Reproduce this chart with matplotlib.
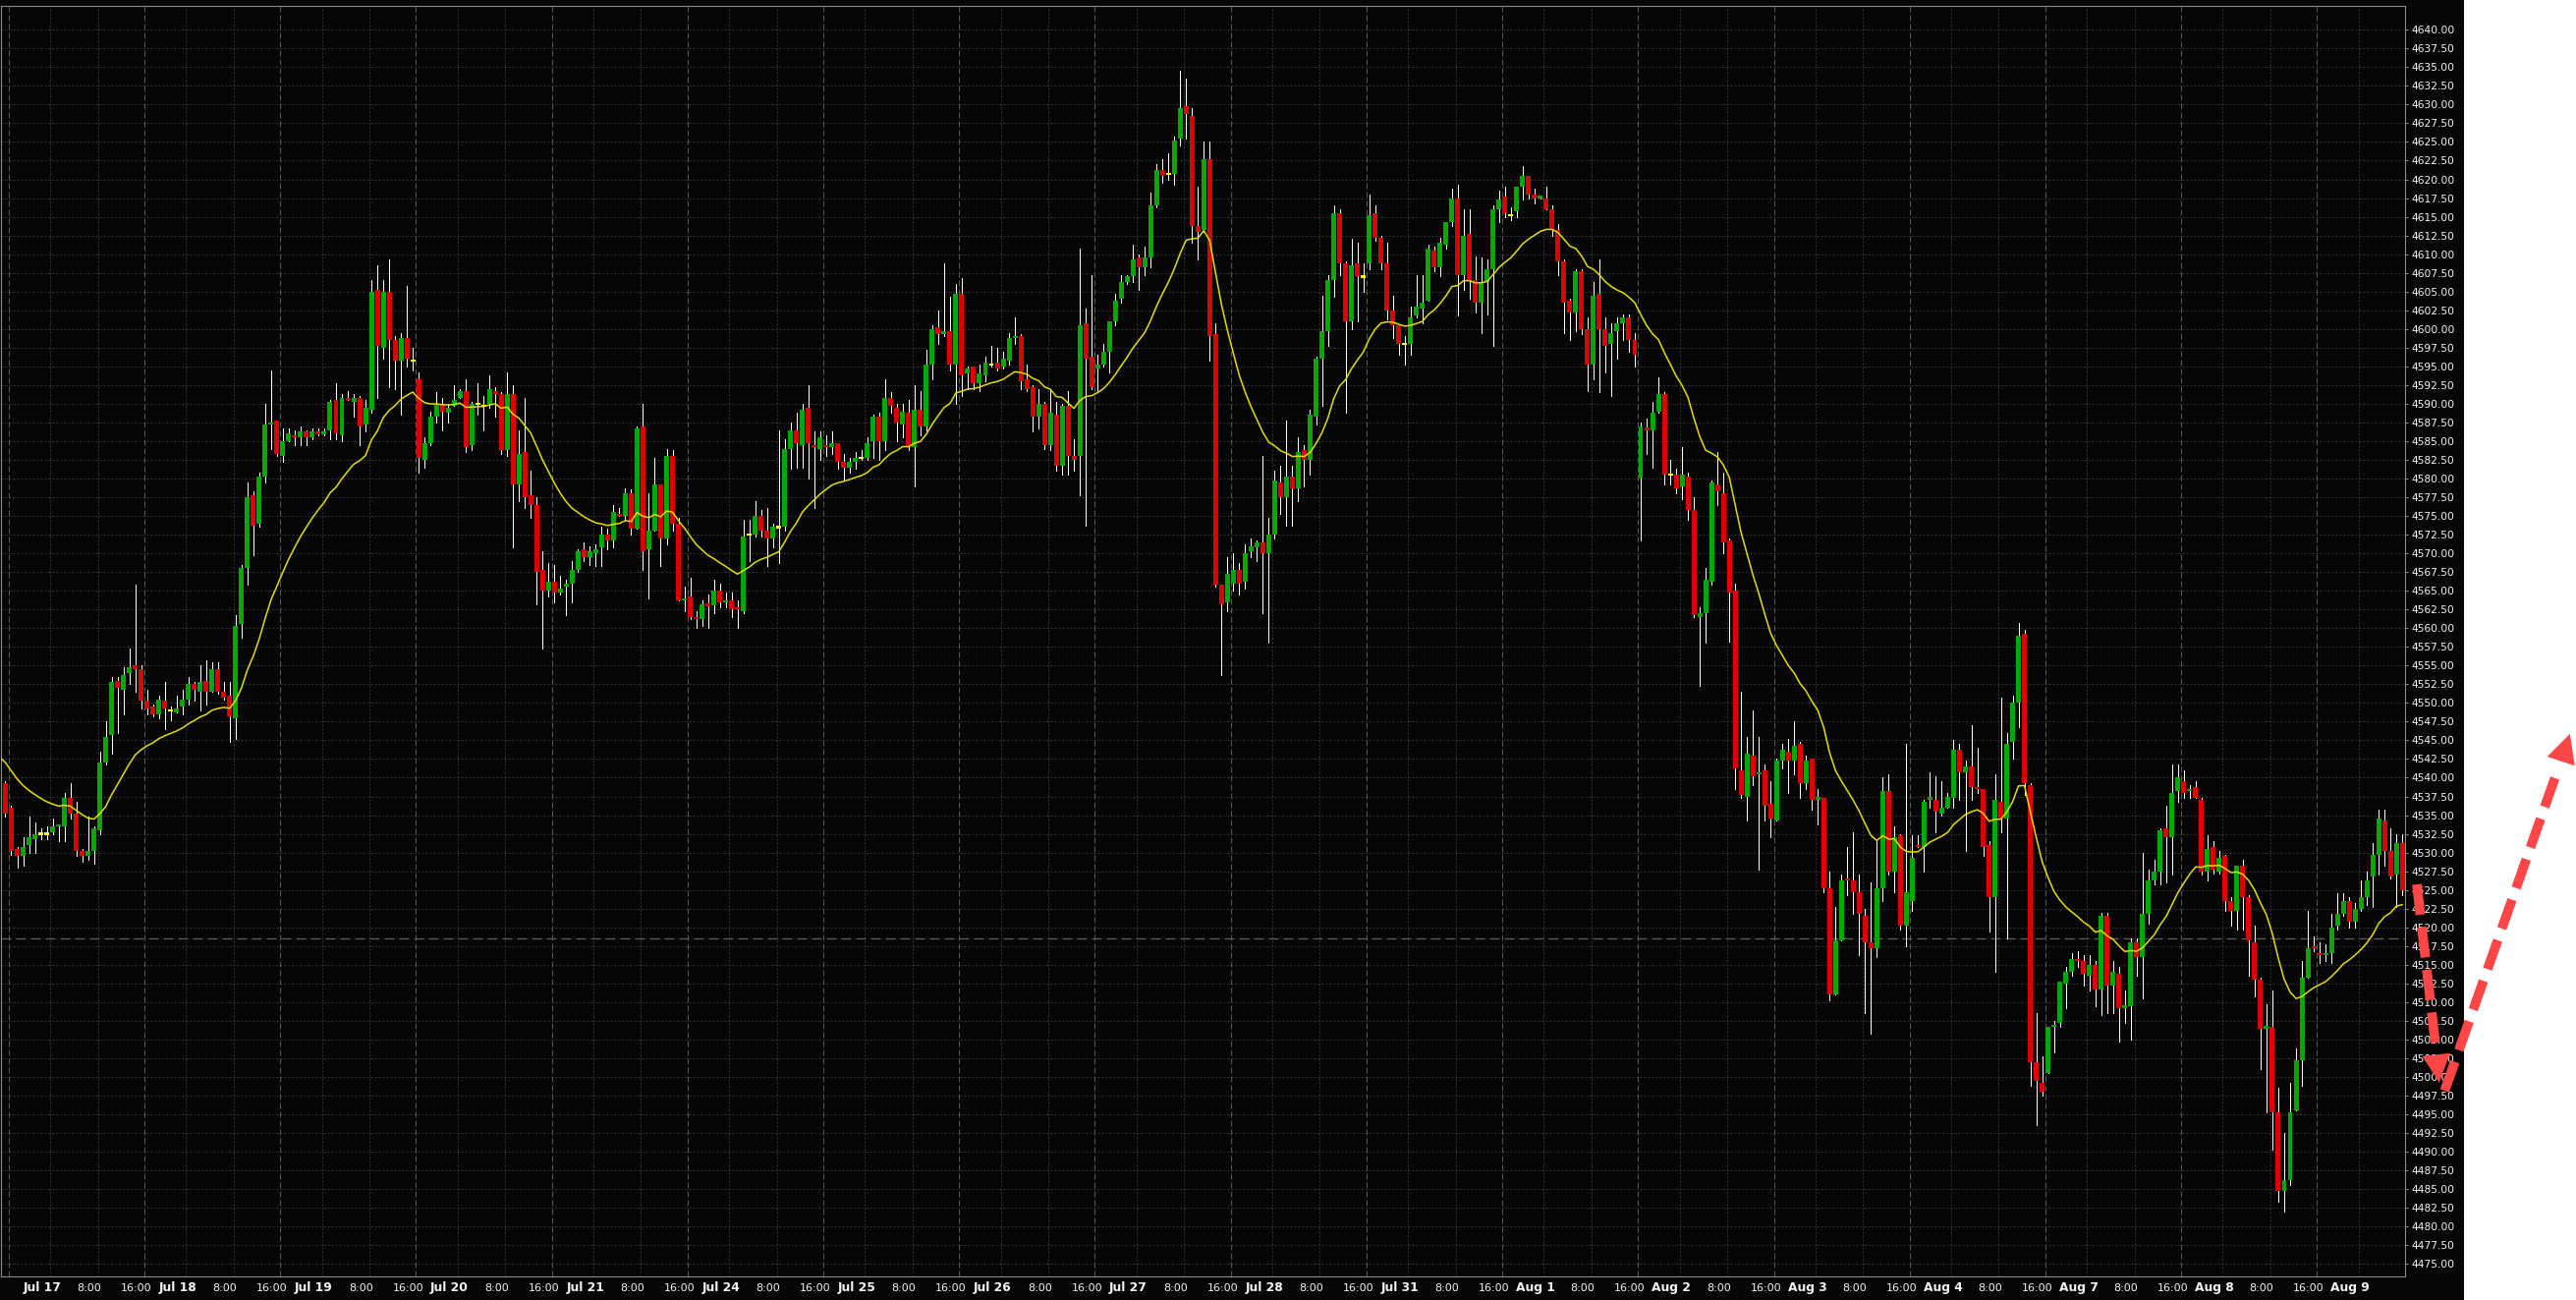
import numpy as np
import matplotlib
matplotlib.use("Agg")
import matplotlib.pyplot as plt
import matplotlib.transforms as mtransforms
from matplotlib.patches import Rectangle, Polygon

# sessions shown on the time axis
days = ["Jul 17", "Jul 18", "Jul 19", "Jul 20", "Jul 21", "Jul 24", "Jul 25", "Jul 26",
        "Jul 27", "Jul 28", "Jul 31", "Aug 1", "Aug 2", "Aug 3", "Aug 4", "Aug 7",
        "Aug 8", "Aug 9"]
hour_labels = ["8:00", "16:00"]
bars_per_day = 23

# hourly OHLC
opens = [
    4539.25, 4536.0, 4530.5, 4529.5, 4531.0, 4531.75, 4532.5, 4532.5, 4532.75, 4533.5,
    4533.5, 4537.25, 4535.25, 4530.25, 4529.5, 4530.25, 4533.0, 4542.0, 4545.75, 4553.0,
    4551.75, 4554.0, 4555.0, 4554.5, 4550.25, 4549.5, 4548.5, 4550.25, 4549.0, 4548.75,
    4549.5, 4550.5, 4552.5, 4551.5, 4553.0, 4551.5, 4554.5, 4551.5, 4551.0, 4548.0,
    4560.5, 4568.0, 4577.75, 4574.0, 4580.25, 4587.25, 4587.75, 4583.0, 4585.0, 4585.75,
    4585.5, 4586.25, 4585.5, 4586.25, 4586.0, 4586.5, 4590.5, 4585.75, 4590.75, 4590.25,
    4590.75, 4587.25, 4589.25, 4605.25, 4597.5, 4605.0, 4598.5, 4595.75, 4598.75, 4595.75,
    4593.25, 4582.5, 4584.75, 4588.25, 4590.0, 4588.75, 4589.75, 4590.75, 4591.75, 4584.5,
    4590.0, 4589.75, 4590.0, 4591.75, 4591.25, 4583.75, 4591.25, 4579.25, 4583.5, 4577.75,
    4576.5, 4567.75, 4565.0, 4566.25, 4564.75, 4565.5, 4566.0, 4567.75, 4570.5, 4569.5,
    4570.0, 4570.75, 4572.5, 4571.75, 4575.25, 4575.0, 4578.0, 4573.25, 4587.0, 4570.5,
    4573.0, 4579.25, 4572.0, 4583.0, 4574.0, 4563.75, 4564.25, 4561.5, 4561.25, 4563.25,
    4563.0, 4565.0, 4563.5, 4563.75, 4562.75, 4562.25, 4572.5, 4572.5, 4575.0, 4573.0,
    4572.0, 4573.5, 4573.5, 4584.0, 4586.5, 4584.5, 4589.5, 4584.5, 4584.0, 4584.5,
    4584.25, 4584.75, 4582.25, 4581.5, 4582.25, 4582.75, 4582.75, 4585.0, 4588.25, 4585.0,
    4590.75, 4589.5, 4587.25, 4588.75, 4584.25, 4589.25, 4587.0, 4595.25, 4600.25, 4599.25,
    4599.75, 4595.25, 4604.75, 4594.0, 4595.0, 4592.75, 4593.75, 4595.25, 4595.5, 4595.0,
    4595.75, 4598.75, 4599.0, 4593.25, 4592.25, 4588.25, 4590.0, 4584.5, 4588.5, 4581.75,
    4589.75, 4583.0, 4583.0, 4600.75, 4596.25, 4594.75, 4595.25, 4597.0, 4601.0, 4604.0,
    4606.25, 4607.0, 4609.5, 4608.25, 4609.5, 4616.5, 4621.25, 4620.75, 4620.75, 4625.5,
    4629.75, 4628.5, 4613.75, 4613.25, 4622.75, 4599.25, 4565.75, 4563.5, 4566.0, 4567.75,
    4566.25, 4570.25, 4570.75, 4571.5, 4570.0, 4572.5, 4579.5, 4577.5, 4580.25, 4578.75,
    4583.75, 4582.5, 4588.25, 4596.0, 4599.75, 4606.5, 4615.5, 4608.75, 4601.0, 4608.75,
    4607.0, 4608.75, 4615.5, 4612.25, 4608.75, 4602.5, 4600.5, 4598.0, 4598.0, 4601.75,
    4602.75, 4603.75, 4610.5, 4608.25, 4611.25, 4614.25, 4617.5, 4607.25, 4612.75, 4606.5,
    4603.5, 4606.25, 4608.0, 4616.0, 4617.75, 4615.25, 4615.75, 4619.0, 4620.5, 4618.0,
    4617.5, 4617.5, 4616.0, 4613.25, 4609.0, 4603.75, 4602.25, 4607.75, 4600.0, 4595.25,
    4604.75, 4600.0, 4598.0, 4599.75, 4600.75, 4601.5, 4598.5, 4580.0, 4586.75, 4586.5,
    4589.0, 4591.25, 4580.5, 4580.5, 4579.0, 4580.25, 4575.75, 4561.5, 4562.0, 4566.25,
    4579.25, 4578.0, 4571.75, 4565.0, 4541.0, 4537.5, 4543.0, 4540.5, 4541.0, 4536.5,
    4534.25, 4542.25, 4543.5, 4542.25, 4544.5, 4539.25, 4542.5, 4537.0, 4537.25, 4525.25,
    4511.0, 4518.25, 4526.5, 4526.25, 4524.75, 4521.5, 4518.0, 4517.25, 4525.25, 4538.25,
    4527.5, 4532.25, 4520.25, 4523.5, 4531.0, 4530.75, 4537.0, 4537.0, 4535.25, 4536.0,
    4537.25, 4543.75, 4540.75, 4541.5, 4538.75, 4538.5, 4531.0, 4524.0, 4536.75, 4534.5,
    4544.75, 4550.0, 4559.25, 4539.0, 4502.0, 4499.25, 4500.5, 4506.75, 4507.25, 4512.5,
    4514.0, 4515.75, 4515.5, 4513.5, 4515.0, 4511.75, 4521.5, 4512.25, 4513.75, 4509.25,
    4509.5, 4518.0, 4516.0, 4521.75, 4526.25, 4527.5, 4533.25, 4532.0, 4538.25, 4539.5,
    4538.25, 4538.75, 4537.0, 4527.5, 4530.75, 4527.5, 4529.5, 4523.5, 4522.25, 4528.25,
    4524.0, 4518.0, 4513.0, 4506.5, 4506.75, 4495.25, 4484.75, 4486.25, 4495.5, 4502.25,
    4513.25, 4517.5, 4516.5, 4516.25, 4516.5, 4520.25, 4521.75, 4523.5, 4520.75, 4522.5,
    4524.0, 4526.75, 4529.75, 4534.25, 4530.25, 4527.0, 4531.25,
]
highs = [
    4539.5, 4536.25, 4530.75, 4532.0, 4534.75, 4534.0, 4533.25, 4533.5, 4534.5, 4533.75,
    4538.0, 4539.25, 4536.75, 4530.5, 4534.75, 4533.5, 4543.5, 4547.5, 4553.5, 4553.5,
    4554.75, 4557.25, 4565.75, 4555.0, 4551.75, 4549.75, 4551.0, 4552.75, 4549.5, 4551.0,
    4551.75, 4553.5, 4552.75, 4555.0, 4555.75, 4555.5, 4555.5, 4552.75, 4552.75, 4561.75,
    4568.5, 4579.5, 4578.25, 4580.75, 4590.0, 4594.5, 4587.75, 4586.75, 4586.75, 4586.5,
    4587.0, 4586.5, 4586.75, 4586.75, 4586.75, 4590.5, 4592.75, 4591.25, 4591.75, 4591.25,
    4591.0, 4590.5, 4606.5, 4608.5, 4606.5, 4609.25, 4599.0, 4599.5, 4605.75, 4597.5,
    4594.25, 4585.5, 4589.0, 4591.5, 4590.75, 4590.0, 4592.5, 4592.0, 4593.25, 4590.25,
    4592.75, 4591.0, 4593.75, 4592.25, 4591.5, 4594.25, 4592.5, 4586.5, 4590.75, 4581.0,
    4577.5, 4570.25, 4568.75, 4568.5, 4567.0, 4566.5, 4569.0, 4570.5, 4571.5, 4571.0,
    4571.25, 4573.5, 4573.25, 4576.5, 4576.0, 4578.75, 4578.5, 4587.0, 4590.0, 4578.0,
    4582.75, 4579.25, 4584.0, 4583.75, 4574.75, 4565.5, 4566.75, 4562.25, 4563.75, 4564.5,
    4566.5, 4566.0, 4564.75, 4564.75, 4563.75, 4574.5, 4574.5, 4577.0, 4575.75, 4576.0,
    4574.0, 4586.5, 4585.25, 4587.5, 4588.75, 4590.0, 4592.5, 4586.25, 4586.25, 4585.75,
    4586.25, 4584.75, 4583.25, 4582.75, 4583.5, 4583.75, 4585.5, 4588.5, 4588.75, 4593.25,
    4591.5, 4590.0, 4590.0, 4590.5, 4592.5, 4591.75, 4597.25, 4600.5, 4602.5, 4608.75,
    4604.25, 4606.0, 4606.75, 4595.0, 4595.0, 4595.25, 4596.25, 4597.75, 4597.5, 4597.0,
    4599.5, 4601.5, 4599.25, 4595.25, 4592.5, 4592.0, 4590.25, 4592.0, 4590.25, 4590.0,
    4591.75, 4585.25, 4610.75, 4602.75, 4607.25, 4596.5, 4598.0, 4601.0, 4604.75, 4607.25,
    4607.25, 4611.25, 4610.0, 4611.0, 4618.25, 4622.0, 4622.75, 4623.5, 4625.75, 4634.5,
    4633.5, 4629.5, 4619.0, 4625.0, 4625.0, 4600.75, 4565.75, 4569.5, 4570.0, 4568.75,
    4571.25, 4572.0, 4571.75, 4583.0, 4574.75, 4581.0, 4581.75, 4587.75, 4581.75, 4585.5,
    4584.5, 4589.25, 4596.25, 4604.5, 4607.25, 4616.5, 4616.0, 4609.0, 4612.0, 4611.5,
    4608.75, 4618.0, 4616.5, 4612.5, 4611.5, 4604.5, 4600.5, 4599.0, 4603.0, 4607.25,
    4607.25, 4611.25, 4611.0, 4612.25, 4614.25, 4618.75, 4619.25, 4616.0, 4616.0, 4609.75,
    4609.5, 4609.25, 4616.5, 4618.5, 4619.0, 4616.25, 4619.0, 4621.75, 4620.5, 4618.75,
    4617.75, 4619.0, 4616.5, 4614.0, 4609.25, 4604.0, 4608.0, 4608.0, 4601.5, 4606.25,
    4609.25, 4601.5, 4600.75, 4601.5, 4602.0, 4602.0, 4599.5, 4587.5, 4588.0, 4590.25,
    4593.5, 4591.5, 4582.5, 4581.25, 4584.25, 4580.75, 4577.5, 4562.75, 4568.0, 4579.75,
    4583.5, 4580.75, 4572.0, 4566.0, 4551.5, 4545.5, 4549.0, 4545.5, 4541.75, 4539.5,
    4542.5, 4544.5, 4545.25, 4547.5, 4544.75, 4543.0, 4542.5, 4538.5, 4537.25, 4527.5,
    4522.75, 4527.0, 4530.75, 4532.75, 4527.0, 4522.5, 4526.0, 4531.5, 4540.0, 4540.5,
    4533.5, 4532.5, 4544.5, 4532.25, 4532.25, 4537.0, 4540.75, 4540.25, 4539.5, 4538.0,
    4545.0, 4544.5, 4542.25, 4547.0, 4544.0, 4538.5, 4531.5, 4540.5, 4550.75, 4546.0,
    4551.0, 4560.75, 4559.75, 4539.25, 4508.5, 4502.75, 4506.75, 4507.5, 4512.75, 4514.75,
    4516.5, 4516.75, 4516.25, 4516.25, 4515.5, 4522.0, 4522.0, 4515.5, 4514.75, 4511.5,
    4518.5, 4518.5, 4530.0, 4527.75, 4529.0, 4533.25, 4536.25, 4541.75, 4541.75, 4541.0,
    4539.0, 4539.5, 4537.25, 4532.25, 4531.5, 4530.25, 4529.75, 4524.0, 4528.25, 4529.0,
    4524.25, 4520.25, 4513.25, 4509.75, 4511.5, 4498.5, 4492.5, 4499.25, 4503.75, 4515.5,
    4522.25, 4518.75, 4518.0, 4517.75, 4521.75, 4524.5, 4524.5, 4524.0, 4523.25, 4526.25,
    4527.5, 4531.25, 4535.75, 4535.75, 4533.25, 4532.5, 4532.5,
]
lows = [
    4534.75, 4529.75, 4528.0, 4528.25, 4530.0, 4530.0, 4531.75, 4531.75, 4532.5, 4531.5,
    4531.5, 4534.5, 4529.5, 4528.75, 4529.0, 4528.5, 4532.5, 4541.75, 4543.25, 4546.0,
    4548.5, 4552.5, 4551.5, 4549.25, 4548.5, 4548.25, 4548.0, 4546.5, 4547.75, 4548.75,
    4548.5, 4549.75, 4550.25, 4549.0, 4549.75, 4551.5, 4551.25, 4550.5, 4544.75, 4545.25,
    4558.75, 4565.75, 4569.75, 4573.5, 4579.5, 4584.0, 4583.0, 4582.25, 4585.0, 4584.5,
    4584.5, 4584.5, 4585.25, 4585.75, 4585.75, 4585.25, 4585.25, 4585.0, 4590.5, 4588.25,
    4584.5, 4586.25, 4588.75, 4590.75, 4596.0, 4592.25, 4592.0, 4588.5, 4595.0, 4594.5,
    4580.75, 4581.5, 4584.5, 4587.5, 4586.5, 4587.5, 4589.75, 4590.75, 4583.5, 4583.75,
    4588.5, 4586.5, 4589.5, 4588.25, 4583.25, 4583.0, 4570.75, 4577.0, 4576.0, 4574.75,
    4563.25, 4557.25, 4564.25, 4563.5, 4564.5, 4561.75, 4563.5, 4567.5, 4569.0, 4568.5,
    4568.25, 4568.25, 4570.5, 4570.75, 4575.0, 4574.5, 4572.5, 4573.25, 4567.75, 4564.0,
    4573.0, 4568.25, 4571.25, 4573.0, 4563.75, 4562.25, 4561.25, 4560.0, 4560.25, 4560.0,
    4562.0, 4562.75, 4562.75, 4561.5, 4560.0, 4562.0, 4569.0, 4572.25, 4572.25, 4568.25,
    4570.75, 4568.75, 4573.0, 4581.25, 4581.5, 4581.5, 4580.0, 4576.0, 4582.5, 4583.0,
    4583.25, 4581.25, 4579.75, 4580.75, 4581.25, 4582.5, 4582.5, 4582.75, 4582.5, 4583.75,
    4588.75, 4585.0, 4585.5, 4583.75, 4579.0, 4585.75, 4586.5, 4593.25, 4598.0, 4599.0,
    4594.5, 4590.0, 4591.0, 4592.0, 4592.0, 4591.75, 4593.0, 4595.0, 4594.5, 4594.75,
    4595.25, 4598.0, 4592.0, 4591.75, 4586.25, 4586.75, 4584.0, 4583.75, 4581.0, 4580.5,
    4580.5, 4581.0, 4577.75, 4573.75, 4592.0, 4591.5, 4595.0, 4594.25, 4600.5, 4603.5,
    4606.0, 4606.25, 4605.25, 4607.25, 4608.25, 4616.25, 4619.5, 4620.0, 4619.25, 4624.5,
    4625.5, 4611.5, 4609.25, 4613.0, 4595.75, 4565.5, 4553.75, 4562.25, 4565.0, 4564.5,
    4565.25, 4569.5, 4569.0, 4562.0, 4558.0, 4572.0, 4575.25, 4573.75, 4573.75, 4577.0,
    4579.0, 4580.5, 4587.25, 4589.75, 4597.75, 4604.25, 4607.25, 4588.75, 4600.0, 4601.0,
    4605.0, 4608.0, 4611.75, 4608.0, 4601.25, 4598.75, 4596.5, 4595.25, 4596.5, 4601.5,
    4600.75, 4603.75, 4607.75, 4607.0, 4610.75, 4613.75, 4601.75, 4605.25, 4604.0, 4602.25,
    4599.5, 4602.0, 4597.75, 4614.25, 4615.0, 4614.5, 4615.0, 4617.25, 4617.5, 4616.75,
    4617.5, 4616.0, 4612.5, 4607.25, 4599.5, 4598.5, 4599.75, 4599.25, 4591.75, 4593.25,
    4591.5, 4594.25, 4591.0, 4596.0, 4598.5, 4597.0, 4595.0, 4571.75, 4583.25, 4581.5,
    4588.75, 4579.25, 4579.25, 4578.0, 4577.25, 4574.5, 4561.5, 4552.25, 4558.0, 4565.75,
    4576.5, 4570.0, 4558.25, 4538.5, 4537.25, 4534.25, 4539.0, 4527.75, 4534.25, 4532.0,
    4534.25, 4541.25, 4538.0, 4540.5, 4537.25, 4538.5, 4535.75, 4533.75, 4524.75, 4510.25,
    4511.0, 4518.25, 4524.25, 4521.75, 4516.25, 4508.5, 4505.75, 4516.0, 4523.5, 4527.0,
    4524.75, 4519.75, 4517.5, 4522.25, 4530.75, 4527.5, 4536.0, 4532.75, 4535.0, 4536.0,
    4536.0, 4537.0, 4530.25, 4537.0, 4538.0, 4529.5, 4519.5, 4514.0, 4532.75, 4518.5,
    4542.5, 4546.75, 4537.75, 4498.75, 4493.5, 4497.5, 4500.5, 4503.25, 4506.75, 4509.25,
    4513.5, 4514.75, 4512.25, 4511.5, 4509.5, 4508.25, 4508.5, 4508.5, 4504.75, 4507.25,
    4505.0, 4513.5, 4510.5, 4520.5, 4525.75, 4525.75, 4526.0, 4527.0, 4536.75, 4537.25,
    4537.25, 4537.25, 4527.0, 4526.25, 4527.25, 4527.25, 4522.25, 4520.25, 4519.75, 4519.75,
    4513.5, 4510.75, 4501.0, 4495.25, 4490.25, 4483.25, 4482.0, 4485.5, 4495.5, 4498.75,
    4513.25, 4516.75, 4515.25, 4515.5, 4515.25, 4519.75, 4521.5, 4520.0, 4520.0, 4522.25,
    4523.0, 4522.75, 4527.0, 4528.25, 4526.5, 4522.75, 4524.25,
]
closes = [
    4535.25, 4530.25, 4529.5, 4530.75, 4532.0, 4532.5, 4532.5, 4532.5, 4533.5, 4533.75,
    4537.25, 4535.25, 4530.25, 4529.5, 4530.25, 4533.25, 4542.0, 4545.5, 4552.75, 4552.0,
    4553.75, 4554.75, 4554.5, 4550.25, 4549.25, 4548.5, 4550.5, 4549.25, 4549.0, 4549.25,
    4550.5, 4552.5, 4551.75, 4552.75, 4551.5, 4554.5, 4551.5, 4550.75, 4548.25, 4560.25,
    4568.0, 4577.5, 4573.75, 4580.25, 4587.25, 4587.5, 4583.25, 4585.0, 4586.0, 4585.5,
    4586.25, 4585.5, 4586.25, 4586.0, 4586.25, 4590.25, 4586.0, 4590.75, 4590.5, 4590.75,
    4587.0, 4589.5, 4605.0, 4597.75, 4605.0, 4598.5, 4595.75, 4598.75, 4596.0, 4595.75,
    4582.75, 4584.75, 4588.25, 4590.0, 4589.0, 4589.5, 4590.5, 4591.75, 4584.25, 4590.0,
    4590.0, 4589.75, 4592.0, 4591.25, 4583.75, 4591.25, 4579.25, 4583.25, 4577.5, 4576.5,
    4567.5, 4565.0, 4566.25, 4564.75, 4565.25, 4566.0, 4567.75, 4570.25, 4569.5, 4570.25,
    4570.5, 4572.5, 4571.75, 4575.5, 4575.0, 4578.0, 4573.25, 4586.75, 4570.25, 4573.0,
    4579.25, 4572.0, 4583.0, 4574.0, 4563.75, 4564.0, 4561.5, 4561.25, 4563.25, 4563.0,
    4565.0, 4563.5, 4563.75, 4562.5, 4562.5, 4572.25, 4572.5, 4575.0, 4573.0, 4572.0,
    4573.5, 4573.5, 4584.0, 4586.5, 4584.75, 4589.25, 4584.75, 4584.25, 4585.5, 4584.25,
    4584.75, 4582.25, 4581.5, 4582.25, 4582.75, 4582.75, 4584.75, 4588.25, 4585.0, 4590.75,
    4589.75, 4587.5, 4589.0, 4584.25, 4589.25, 4587.0, 4595.25, 4600.0, 4599.25, 4599.75,
    4595.25, 4604.75, 4593.75, 4594.75, 4592.75, 4594.0, 4595.5, 4595.25, 4594.75, 4596.0,
    4598.75, 4599.0, 4593.0, 4592.0, 4588.25, 4590.0, 4584.5, 4588.75, 4581.75, 4589.75,
    4583.0, 4582.5, 4600.5, 4596.0, 4592.25, 4595.25, 4597.0, 4601.0, 4603.75, 4606.25,
    4607.0, 4609.25, 4608.25, 4609.5, 4616.5, 4621.25, 4620.5, 4620.75, 4625.25, 4629.5,
    4628.75, 4613.75, 4613.0, 4622.75, 4599.0, 4565.75, 4563.25, 4567.25, 4567.75, 4566.0,
    4570.0, 4571.0, 4571.5, 4570.0, 4572.5, 4579.75, 4577.5, 4580.25, 4578.75, 4583.5,
    4582.5, 4588.5, 4596.0, 4599.75, 4606.5, 4615.5, 4608.75, 4601.0, 4608.5, 4607.0,
    4607.0, 4615.25, 4612.25, 4608.75, 4602.5, 4600.5, 4598.0, 4598.0, 4601.5, 4603.0,
    4603.5, 4610.75, 4608.25, 4611.5, 4614.25, 4617.5, 4607.25, 4612.5, 4606.5, 4603.5,
    4606.25, 4608.0, 4616.0, 4617.25, 4615.5, 4615.25, 4619.0, 4620.5, 4618.0, 4617.5,
    4617.75, 4616.0, 4613.25, 4609.0, 4603.5, 4602.25, 4607.75, 4600.0, 4595.25, 4604.5,
    4600.0, 4597.75, 4599.5, 4600.75, 4601.5, 4598.5, 4596.5, 4587.0, 4586.5, 4588.75,
    4591.25, 4580.5, 4580.5, 4578.75, 4580.5, 4575.75, 4561.75, 4562.0, 4566.5, 4579.5,
    4578.25, 4571.5, 4564.75, 4541.25, 4537.75, 4543.25, 4540.25, 4540.75, 4536.25, 4534.5,
    4542.25, 4543.75, 4542.25, 4544.25, 4539.25, 4542.25, 4537.0, 4537.5, 4525.25, 4511.0,
    4518.25, 4526.25, 4526.25, 4524.75, 4521.75, 4518.0, 4517.25, 4525.25, 4538.25, 4527.5,
    4532.0, 4520.25, 4524.75, 4529.25, 4530.75, 4536.75, 4537.5, 4535.5, 4536.0, 4537.5,
    4543.75, 4540.75, 4541.5, 4538.75, 4538.5, 4530.75, 4524.0, 4537.0, 4534.5, 4544.5,
    4550.0, 4559.0, 4539.25, 4502.0, 4499.5, 4498.0, 4506.75, 4507.0, 4512.75, 4514.0,
    4515.75, 4515.5, 4513.75, 4515.0, 4511.75, 4521.5, 4512.25, 4514.0, 4509.25, 4509.5,
    4518.0, 4516.0, 4521.75, 4526.25, 4527.5, 4533.0, 4532.0, 4538.0, 4540.0, 4538.0,
    4538.5, 4537.25, 4527.5, 4530.5, 4527.75, 4529.25, 4523.5, 4522.25, 4528.25, 4524.0,
    4518.25, 4513.0, 4506.5, 4506.75, 4495.25, 4484.75, 4486.25, 4495.25, 4502.25, 4513.25,
    4517.25, 4517.25, 4516.25, 4516.5, 4520.0, 4521.75, 4523.5, 4520.75, 4522.5, 4524.0,
    4526.25, 4529.75, 4534.5, 4530.25, 4526.75, 4531.25, 4525.0,
]

ma_period = 20          # exponential moving average drawn in yellow
ma_start = 4542.75      # its value at the left edge of the chart
level_line = 4518.5     # grey dashed horizontal line
y_ticks = np.arange(4475.0, 4640.01, 2.5)

assert len(opens) == len(highs) == len(lows) == len(closes)

W, H = 2622, 1323
BG = "#060606"
GREEN, RED, YELLOW = "#00a800", "#dc0000", "#ffff00"

fig = plt.figure(figsize=(W / 100, H / 100), dpi=100, facecolor="white")
fig.patches.append(Rectangle((0, 0), 2508 / W, 1, transform=fig.transFigure,
                             facecolor=BG, edgecolor="none", zorder=-10))
ax = fig.add_axes([0.5 / W, 24 / H, 2447.5 / W, 1293 / H])
ax.set_facecolor(BG)

o = np.array(opens); h = np.array(highs); l = np.array(lows); c = np.array(closes)
n = len(o)
x = np.arange(n)

# grid
for v in y_ticks:
    ax.axhline(v, color="#353535", lw=0.72, ls=(0, (2, 2)), zorder=0.5)
for d in range(len(days)):
    base = bars_per_day * d + 0.55
    ax.axvline(base, color="#575757", lw=0.72, ls=(0, (6, 3)), zorder=0.6)
    ax.axvline(base + 7.05, color="#353535", lw=0.72, ls=(0, (2, 2)), zorder=0.5)
    ax.axvline(base + 15.1, color="#353535", lw=0.72, ls=(0, (2, 2)), zorder=0.5)
ax.axhline(level_line, color="#5e5e5e", lw=0.9, ls=(0, (8, 4)), zorder=0.7)

# candles
cols = np.where(c > o, GREEN, np.where(c < o, RED, YELLOW))
bot = np.minimum(o, c)
hgt = np.abs(c - o)
flat = hgt < 0.3
bot = np.where(flat, (o + c) / 2 - 0.15, bot)
hgt = np.where(flat, 0.3, hgt)
ax.vlines(x, np.minimum(l, bot), np.maximum(h, bot + hgt), colors="white", lw=0.7,
          antialiased=False, zorder=2)
ax.bar(x, hgt, bottom=bot, width=0.83, color=cols, linewidth=0, zorder=3)

# moving average
alpha = 2.0 / (ma_period + 1)
ma = [ma_start]
for v in c:
    ma.append(ma[-1] + alpha * (v - ma[-1]))
ax.plot(np.arange(-1, n), ma, color="#e4dc00", lw=1.1, zorder=4)

ax.set_xlim(-0.83, 406.47)
ax.set_ylim(4473.33, 4643.19)

# axes styling
for s in ax.spines.values():
    s.set_color("#8c8c8c")
    s.set_linewidth(0.8)
ax.set_xticks([])
ax.yaxis.tick_right()
ax.set_yticks(y_ticks)
ax.set_yticklabels([f"{v:.2f}" for v in y_ticks])
ax.tick_params(axis="y", colors="#8c8c8c", labelcolor="#f4f4f4", length=2.2,
               width=0.72, pad=2.5, labelsize=7.7)

# time labels
tr = mtransforms.blended_transform_factory(ax.transData, ax.transAxes)
for d, name in enumerate(days):
    base = bars_per_day * d + 0.55
    items = [(base + 5.66, name, "bold", 8.8),
             (base + 13.64, hour_labels[0], "normal", 8.0),
             (base + 21.63, hour_labels[1], "normal", 8.0)]
    for xp, txt, wt, fs in items:
        if xp > 404.5:
            continue
        ax.text(xp, -11.5 / 1293, txt, transform=tr, ha="center", va="center",
                color="#f4f4f4", fontsize=fs, fontweight=wt, clip_on=False)

# hand-drawn red arrows on top of everything
ov = fig.add_axes([0, 0, 1, 1], zorder=10)
ov.set_xlim(0, W)
ov.set_ylim(H, 0)
ov.axis("off")
ov.patch.set_alpha(0)
ARROW = "#ff4646"
ov.plot([2460, 2479.5], [900, 1068], color=ARROW, lw=7, dashes=(3.2, 1.3),
        dash_capstyle="butt")
ov.add_patch(Polygon([(2465.7, 1075), (2494, 1071.7), (2482.7, 1101.7)], closed=True,
                     facecolor=ARROW, edgecolor="none"))
ov.plot([2488.3, 2604], [1110, 782], color=ARROW, lw=7, dashes=(3.2, 1.3),
        dash_capstyle="butt")
ov.add_patch(Polygon([(2592.7, 770), (2620.7, 779.3), (2615.9, 746.8)], closed=True,
                     facecolor=ARROW, edgecolor="none"))

fig.savefig("out.png", dpi=100, facecolor="white")
